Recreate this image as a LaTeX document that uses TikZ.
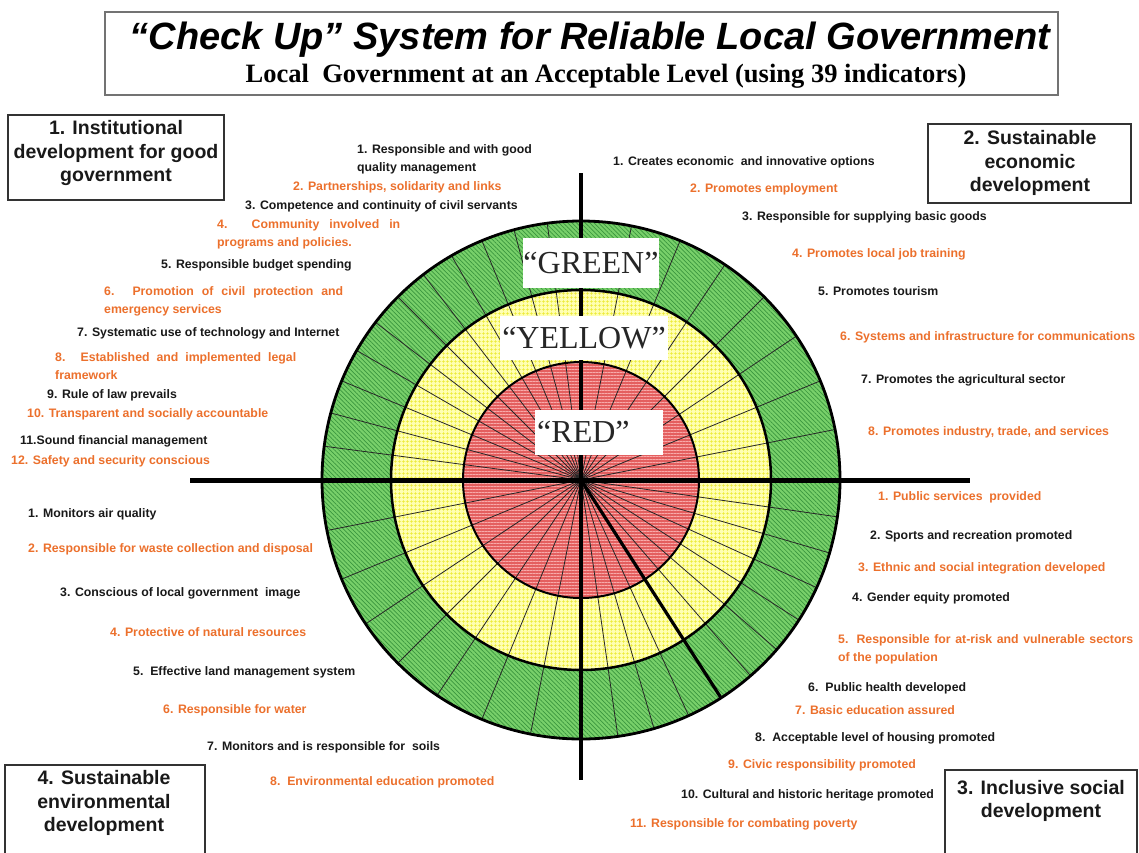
\documentclass[tikz,border=0pt]{standalone}
\usepackage{fontspec}
\setmainfont{Liberation Serif}
\newfontfamily\arial{Liberation Sans}
\usetikzlibrary{patterns.meta}
\definecolor{ora}{RGB}{236,112,44}
\definecolor{txt}{RGB}{25,25,25}
\definecolor{gfill}{RGB}{120,208,106}
\definecolor{gline}{RGB}{58,150,62}
\definecolor{yfill}{RGB}{255,255,178}
\definecolor{yline}{RGB}{236,234,50}
\definecolor{rfill}{RGB}{228,95,95}
\definecolor{rline}{RGB}{248,170,170}
\begin{document}
\begin{tikzpicture}[x=1pt,y=-1pt,
  ind/.style={anchor=west,inner sep=0pt,align=left,font=\arial\bfseries\fontsize{12.3}{18}\selectfont,text=txt},
  indo/.style={ind,text=ora},
  cbox/.style={draw=black!80,line width=1.3pt,fill=white},
  ctext/.style={inner sep=0pt,align=center,font=\arial\bfseries\fontsize{19.5}{23.5}\selectfont,text=txt},
  lbl/.style={fill=white,inner sep=0pt,font=\fontsize{32}{32}\selectfont,text=black!85},
  spoke/.style={draw=black!85,line width=0.8pt},
  axis/.style={draw=black,line width=5pt},
]
\useasboundingbox (0,0) rectangle (1139,852);
\clip (0,0) rectangle (1139,852);
\fill[white] (0,0) rectangle (1139,852);

% title
\node[draw=black!55,line width=2pt,minimum width=953pt,minimum height=83pt,inner sep=0pt] (tbox) at (581.5,53.5) {};
\node[inner sep=0pt,font=\arial\bfseries\itshape\fontsize{38}{40}\selectfont] (title) at (590,40) {“Check Up” System for Reliable Local Government};
\node[inner sep=0pt,font=\bfseries\fontsize{26.5}{28}\selectfont] (subtitle) at (606,76) {Local\ \ Government at an Acceptable Level (using 39 indicators)};

% wheel
\coordinate (c) at (581,480);
\begin{scope}[shift={(581,480)},x=1pt,y=1pt]
  \fill[gfill,even odd rule] (0,0) circle (259) (0,0) circle (190);
  \path[pattern={Lines[angle=-45,distance=3.1pt,line width=0.7pt]},pattern color=gline,even odd rule] (0,0) circle (259) (0,0) circle (190);
  \fill[yfill,even odd rule] (0,0) circle (190) (0,0) circle (118);
  \path[pattern={Hatch[angle=0,distance=4pt,line width=0.8pt]},pattern color=yline,even odd rule] (0,0) circle (190) (0,0) circle (118);
  \fill[rfill] (0,0) circle (118);
  \path[pattern={Lines[angle=0,distance=3pt,line width=0.9pt]},pattern color=rline] (0,0) circle (118);
  \foreach \k in {1,...,11} \draw[spoke] (0,0) -- (90+7.5*\k:259);
  \foreach \k in {1,...,7} \draw[spoke] (0,0) -- (11.25*\k:259);
  \foreach \k in {1,...,10} \draw[spoke] (0,0) -- (-8.1818*\k:259);
  \foreach \k in {1,...,7} \draw[spoke] (0,0) -- (180+11.25*\k:259);
  \coordinate (thk) at (-57.27:259);
  \draw[line width=3.2pt] (0,0) -- (thk);
  \draw[line width=2.8pt] (0,0) circle (259);
  \draw[line width=2.5pt] (0,0) circle (190);
  \draw[line width=2pt] (0,0) circle (118);
\end{scope}

% axes
\coordinate (axL) at (190,480);
\coordinate (axR) at (970,480);
\coordinate (axT) at (581,173);
\coordinate (axB) at (581,780);
\draw[axis] (axL) -- (axR);
\draw[axis,line width=4.5pt] (axT) -- (axB);

% ring labels
\node[lbl,minimum width=132pt,minimum height=50pt] (green) at (591,263) {“GREEN”};
\node[lbl,minimum width=168pt,minimum height=44pt] (yellow) at (584,338) {“YELLOW”};
\node[lbl,anchor=west,text width=124pt,inner xsep=2pt,minimum height=45pt,align=left] (red) at (535,432) {“RED”};

% corner boxes
\draw[cbox] (8,115) rectangle (224,200);
\node[ctext] (c1) at (116,153) {1. Institutional\\development for good\\government};
\draw[cbox] (928,124) rectangle (1131,203);
\node[ctext] (c2) at (1030,163) {2. Sustainable\\economic\\development};
\draw[cbox] (945,770) rectangle (1137,870);
\node[ctext] (c3) at (1041,801) {3. Inclusive social\\development};
\draw[cbox] (5,765) rectangle (205,870);
\node[ctext] (c4) at (104,803) {4. Sustainable\\environmental\\development};

% quadrant 1
\node[ind]  (q1a) at (357,159) {1. Responsible and with good\\quality management};
\node[indo] (q1b) at (293,187) {2. Partnerships, solidarity and links};
\node[ind]  (q1c) at (245,206) {3. Competence and continuity of civil servants};
\node[indo] (q1d) at (217,234) {\makebox[183pt][s]{4. Community involved in}\\programs and policies.};
\node[ind]  (q1e) at (161,265) {5. Responsible budget spending};
\node[indo] (q1f) at (104,301) {\makebox[239pt][s]{6. Promotion of civil protection and}\\emergency services};
\node[ind]  (q1g) at (77,333) {7. Systematic use of technology and Internet};
\node[indo] (q1h) at (55,366) {\makebox[241pt][s]{8. Established and implemented legal}\\framework};
\node[ind]  (q1i) at (47,395) {9. Rule of law prevails};
\node[indo] (q1j) at (27,414) {10. Transparent and socially accountable};
\node[ind]  (q1k) at (20,441) {11.Sound financial management};
\node[indo] (q1l) at (11,461) {12. Safety and security conscious};

% quadrant 2
\node[ind]  (q2a) at (613,162) {1. Creates economic\ \ and innovative options};
\node[indo] (q2b) at (690,189) {2. Promotes employment};
\node[ind]  (q2c) at (742,217) {3. Responsible for supplying basic goods};
\node[indo] (q2d) at (792,254) {4. Promotes local job training};
\node[ind]  (q2e) at (818,291) {5. Promotes tourism};
\node[indo] (q2f) at (840,337) {6. Systems and infrastructure for communications};
\node[ind]  (q2g) at (861,380) {7. Promotes the agricultural sector};
\node[indo] (q2h) at (868,432) {8. Promotes industry, trade, and services};

% quadrant 3
\node[indo] (q3a) at (878,497) {1. Public services\ \ provided};
\node[ind]  (q3b) at (870,536) {2. Sports and recreation promoted};
\node[indo] (q3c) at (858,568) {3. Ethnic and social integration developed};
\node[ind]  (q3d) at (852,598) {4. Gender equity promoted};
\node[indo] (q3e) at (838,649) {\makebox[295pt][s]{5. Responsible for at-risk and vulnerable sectors}\\of the population};
\node[ind]  (q3f) at (808,688) {6.\ \ Public health developed};
\node[indo] (q3g) at (795,710) {7. Basic education assured};
\node[ind]  (q3h) at (755,738) {8.\ \ Acceptable level of housing promoted};
\node[indo] (q3i) at (728,765) {9. Civic responsibility promoted};
\node[ind]  (q3j) at (681,795) {10. Cultural and historic heritage promoted};
\node[indo] (q3k) at (630,824) {11. Responsible for combating poverty};

% quadrant 4
\node[ind]  (q4a) at (28,514) {1. Monitors air quality};
\node[indo] (q4b) at (28,549) {2. Responsible for waste collection and disposal};
\node[ind]  (q4c) at (60,593) {3. Conscious of local government\ \ image};
\node[indo] (q4d) at (110,632) {4. Protective of natural resources};
\node[ind]  (q4e) at (133,672) {5.\ \ Effective land management system};
\node[indo] (q4f) at (163,710) {6. Responsible for water};
\node[ind]  (q4g) at (207,747) {7. Monitors and is responsible for\ \ soils};
\node[indo] (q4h) at (270,782) {8.\ \ Environmental education promoted};
\end{tikzpicture}
\end{document}
